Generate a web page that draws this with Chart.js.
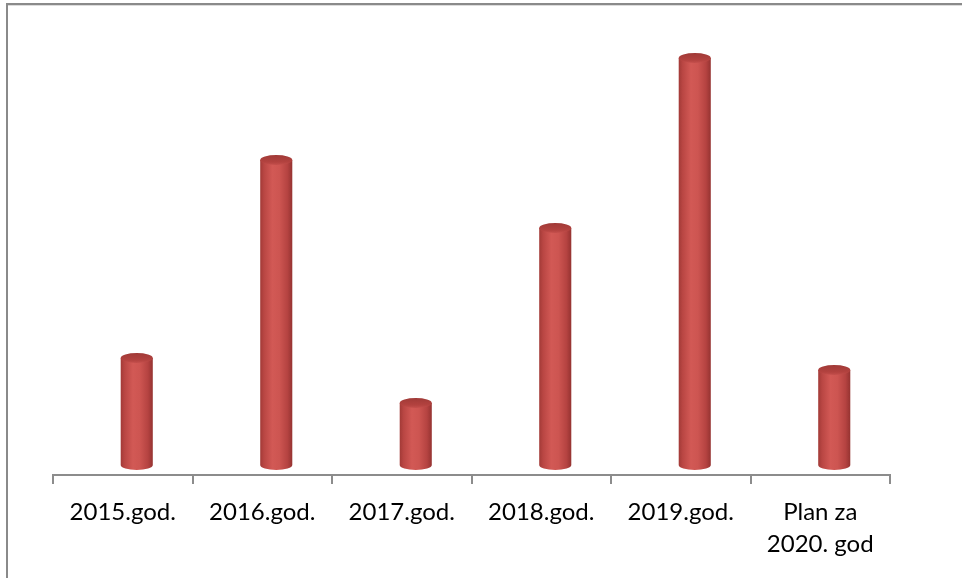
<!DOCTYPE html>
<html><head><meta charset="utf-8">
<script src="https://cdn.jsdelivr.net/npm/chart.js@4/dist/chart.umd.min.js"></script>
<style>
html,body{margin:0;padding:0;background:#fff;}
#wrap{position:relative;width:962px;height:578px;overflow:hidden;background:#fff;}
canvas{position:absolute;left:0;top:0;}
#frame{position:absolute;left:6px;top:3px;right:-10px;bottom:-10px;border-left:2px solid #8a8a8a;border-top:2px solid #8a8a8a;pointer-events:none;}
#frame2{position:absolute;left:8px;top:5px;right:-10px;height:1px;background:#dcdcdc;pointer-events:none;}
</style></head><body>
<div id="wrap"><canvas id="c" width="962" height="578"></canvas><div id="frame"></div><div id="frame2"></div></div>
<script>
const categories = ["2015.god.", "2016.god.", "2017.god.", "2018.god.", "2019.god.", ["Plan za", "2020. god"]];
const values = [107, 305, 62, 237, 407, 95];
const yMin = -10;
const yMax = 420;

const cylinderPlugin = {
  id: 'cylinder',
  afterDatasetsDraw(chart) {
    const ctx = chart.ctx;
    const meta = chart.getDatasetMeta(0);
    ctx.save();
    ctx.translate(14, 0);
    meta.data.forEach(el => {
      const p = el.getProps(['x', 'y', 'base', 'width'], true);
      const x = p.x, y = p.y, base = p.base, rx = p.width / 2, ry = 5;
      const g = ctx.createLinearGradient(x - rx, 0, x + rx, 0);
      g.addColorStop(0, '#a23a37');
      g.addColorStop(0.12, '#b94643');
      g.addColorStop(0.38, '#d25955');
      g.addColorStop(0.6, '#cd5551');
      g.addColorStop(0.85, '#b54341');
      g.addColorStop(1, '#953331');
      ctx.beginPath();
      ctx.moveTo(x - rx, y);
      ctx.lineTo(x - rx, base);
      ctx.ellipse(x, base, rx, ry, 0, Math.PI, 0, true);
      ctx.lineTo(x + rx, y);
      ctx.closePath();
      ctx.fillStyle = g;
      ctx.fill();
      const g2 = ctx.createLinearGradient(0, y - ry, 0, y + ry);
      g2.addColorStop(0, '#a03a37');
      g2.addColorStop(0.7, '#b3423f');
      g2.addColorStop(1, '#c44f4c');
      ctx.beginPath();
      ctx.ellipse(x, y, rx, ry, 0, 0, Math.PI * 2);
      ctx.fillStyle = g2;
      ctx.fill();
    });
    ctx.restore();
  }
};

new Chart(document.getElementById('c'), {
  type: 'bar',
  data: {
    labels: categories,
    datasets: [{
      data: values,
      backgroundColor: 'rgba(0,0,0,0)',
      borderWidth: 0,
      barPercentage: 0.23,
      categoryPercentage: 1
    }]
  },
  options: {
    responsive: false,
    animation: false,
    devicePixelRatio: 1,
    layout: { padding: { left: 53, right: 72, top: 45, bottom: 6 } },
    plugins: { legend: { display: false }, tooltip: { enabled: false } },
    scales: {
      x: {
        grid: { display: true, drawOnChartArea: false, tickLength: 9, color: '#8c8c8c', lineWidth: 2, offset: true },
        border: { display: true, color: '#8c8c8c', width: 2 },
        ticks: { color: '#000', font: { family: 'Lato', size: 24, lineHeight: 1.333 }, padding: 12, maxRotation: 0, autoSkip: false }
      },
      y: { display: false, min: yMin, max: yMax }
    }
  },
  plugins: [cylinderPlugin]
});
</script>
</body></html>
